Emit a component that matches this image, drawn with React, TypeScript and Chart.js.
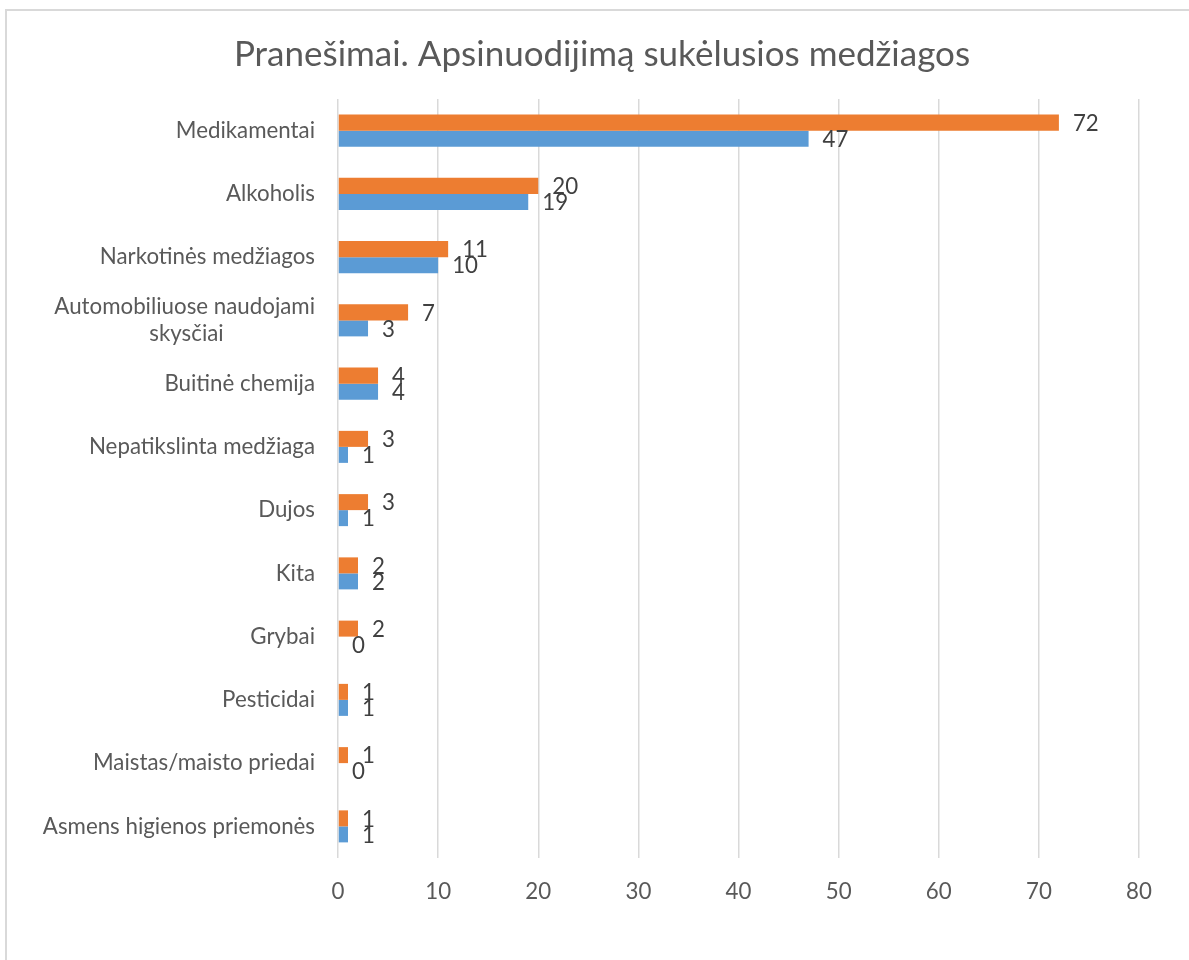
import React, { useEffect, useRef } from "react";
import { Chart, registerables } from "chart.js";

Chart.register(...registerables);

const TITLE = "Pranešimai. Apsinuodijimą sukėlusios medžiagos";
const categories: (string | string[])[] = [
  "Medikamentai",
  "Alkoholis",
  "Narkotinės medžiagos",
  ["Automobiliuose naudojami", "skysčiai"],
  "Buitinė chemija",
  "Nepatikslinta medžiaga",
  "Dujos",
  "Kita",
  "Grybai",
  "Pesticidai",
  "Maistas/maisto priedai",
  "Asmens higienos priemonės",
];
const seriesOrange = [72, 20, 11, 7, 4, 3, 3, 2, 2, 1, 1, 1];
const seriesBlue = [47, 19, 10, 3, 4, 1, 1, 2, 0, 1, 0, 1];
const xTicks = [0, 10, 20, 30, 40, 50, 60, 70, 80];

const FONT = "Lato";
const LABEL_SIZE = 22.3;
const TITLE_SIZE = 35;

function centerLines(lines: string[], font: string): string[] {
  const c = document.createElement("canvas").getContext("2d");
  if (!c) return lines;
  c.font = font;
  const widths = lines.map((l) => c.measureText(l).width);
  const max = Math.max(...widths);
  const sp = c.measureText(" ").width || 5;
  return lines.map((l, i) => l + " ".repeat(Math.round((max - widths[i]) / 2 / sp)));
}

const dataLabels = {
  id: "dataLabels",
  afterDatasetsDraw(chart: any) {
    const ctx = chart.ctx;
    ctx.save();
    ctx.font = `${LABEL_SIZE}px ${FONT}`;
    ctx.fillStyle = "#404040";
    ctx.textAlign = "left";
    ctx.textBaseline = "middle";
    chart.data.datasets.forEach((ds: any, di: number) => {
      const meta = chart.getDatasetMeta(di);
      meta.data.forEach((el: any, i: number) => {
        ctx.fillText(String(ds.data[i]), el.x + 14, el.y + 1);
      });
    });
    ctx.restore();
  },
};

const boxTitle = {
  id: "boxTitle",
  afterDraw(chart: any) {
    const ctx = chart.ctx;
    ctx.save();
    ctx.font = `${TITLE_SIZE}px ${FONT}`;
    ctx.fillStyle = "#595959";
    ctx.textAlign = "center";
    ctx.textBaseline = "middle";
    ctx.fillText(TITLE, 602, 55);
    ctx.restore();
  },
};

export default function App() {
  const ref = useRef<HTMLCanvasElement>(null);
  useEffect(() => {
    if (!ref.current) return;
    const font = `${LABEL_SIZE}px ${FONT}`;
    const tickLabels = categories.map((c) => (Array.isArray(c) ? centerLines(c, font) : c));
    const chart = new Chart(ref.current, {
      type: "bar",
      data: {
        labels: categories as any,
        datasets: [
          {
            label: "Series 2",
            data: seriesOrange,
            backgroundColor: "#ED7D31",
            barPercentage: 1,
            categoryPercentage: 0.506,
          },
          {
            label: "Series 1",
            data: seriesBlue,
            backgroundColor: "#5B9BD5",
            barPercentage: 1,
            categoryPercentage: 0.506,
          },
        ],
      },
      options: {
        indexAxis: "y",
        animation: false,
        responsive: false,
        maintainAspectRatio: false,
        layout: { padding: { left: 0, right: 50, top: 99, bottom: 0 } },
        plugins: {
          legend: { display: false },
          tooltip: { enabled: false },
          title: { display: false },
        },
        scales: {
          x: {
            min: 0,
            max: 80,
            afterBuildTicks: (s: any) => {
              s.ticks = xTicks.map((v) => ({ value: v }));
            },
            afterFit: (s: any) => {
              s.height = 102;
            },
            grid: { color: "#d9d9d9", lineWidth: 1.5, drawTicks: false },
            border: { display: false },
            ticks: {
              color: "#595959",
              font: { family: FONT, size: LABEL_SIZE },
              padding: 20,
            },
          },
          y: {
            afterFit: (s: any) => {
              s.width = 338;
            },
            grid: { display: false, drawTicks: false },
            border: { display: false },
            ticks: {
              color: "#595959",
              font: { family: FONT, size: LABEL_SIZE },
              padding: 23,
              autoSkip: false,
              callback: (_v: any, i: number) => tickLabels[i] as any,
            },
          },
        },
      },
      plugins: [dataLabels, boxTitle],
    });
    return () => chart.destroy();
  }, []);

  return (
    <div
      style={{
        position: "absolute",
        left: 0,
        top: 0,
        width: 1189,
        height: 960,
        overflow: "hidden",
        background: "#fff",
      }}
    >
      <div
        style={{
          position: "absolute",
          left: 5,
          top: 9,
          width: 1300,
          height: 1100,
          border: "2px solid #d9d9d9",
          boxSizing: "border-box",
        }}
      />
      <canvas
        ref={ref}
        width={1189}
        height={960}
        style={{ position: "absolute", left: 0, top: 0, width: 1189, height: 960 }}
      />
    </div>
  );
}
